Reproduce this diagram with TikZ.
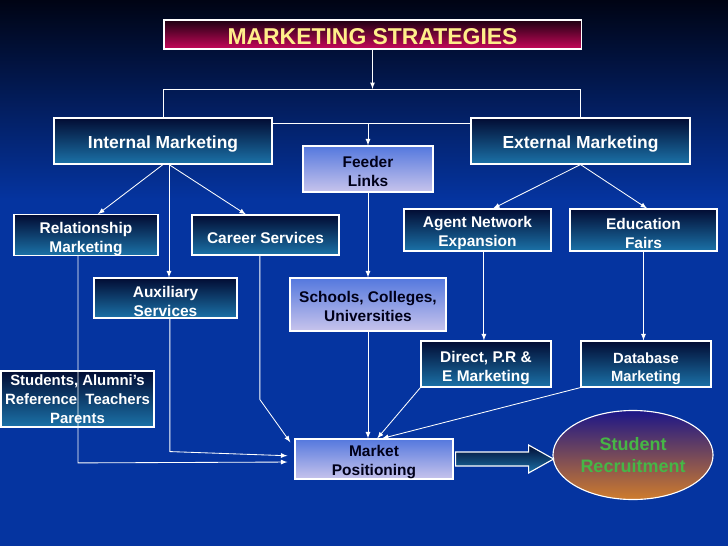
\documentclass[tikz,border=0pt]{standalone}
\usepackage{fontspec}
\setmainfont{Liberation Sans}
\usetikzlibrary{shapes.geometric,calc}

\definecolor{bgtop}{HTML}{000414}
\definecolor{bgblue}{HTML}{0534A0}
\definecolor{boxtop}{HTML}{020C33}
\definecolor{boxbot}{HTML}{1B72A8}
\definecolor{lighttop}{HTML}{5478DE}
\definecolor{lightbot}{HTML}{C8C4EC}
\definecolor{titletop}{HTML}{1E0012}
\definecolor{titlebot}{HTML}{C8085A}
\definecolor{titletext}{HTML}{FFEE8A}
\definecolor{goaltop}{HTML}{1C1688}
\definecolor{goalbot}{HTML}{CF7C2C}
\definecolor{goaltext}{HTML}{46B646}

\begin{document}
\begin{tikzpicture}[x=0.025cm,y=-0.025cm,>=latex,
	box/.style={draw=white, line width=0.8pt, align=center, inner sep=0pt,
		font=\fontsize{11}{13.4}\selectfont\bfseries},
	darkbox/.style={box, top color=boxtop, bottom color=boxbot, text=white},
	lightbox/.style={box, top color=lighttop, bottom color=lightbot, text=black!90!blue},
	link/.style={white, line width=0.6pt},
	]
	%\draw[help lines] (0,0) grid[step=50] (728,546);
	\useasboundingbox (0,0) rectangle (728,546);
	\fill[bgblue] (0,0) rectangle (728,546);
	\shade[top color=bgtop, bottom color=bgblue] (0,0) rectangle (728,200);

	\node[box, top color=titletop, bottom color=titlebot, text=titletext,
		minimum width=10.425cm, minimum height=0.725cm, text height=14pt,
		font=\fontsize{16.3}{18}\selectfont\bfseries] (title) at (372.5,34.5) {MARKETING STRATEGIES};

	\node[darkbox, minimum width=5.45cm, minimum height=1.15cm, text height=12.8pt,
		font=\fontsize{12.4}{14}\selectfont\bfseries] (intm) at (163,141) {Internal Marketing};
	\node[darkbox, minimum width=5.475cm, minimum height=1.15cm, text height=12.8pt,
		font=\fontsize{12.4}{14}\selectfont\bfseries] (extm) at (580.5,141) {External Marketing};
	\node[lightbox, minimum width=3.25cm, minimum height=1.15cm, text height=24.4pt] (feeder) at (368,169) {Feeder\\Links};

	\node[darkbox, minimum width=3.6cm, minimum height=1cm, text height=26.6pt] (relm) at (86,235) {Relationship\\Marketing};
	\node[darkbox, minimum width=3.675cm, minimum height=1cm, text height=11.8pt] (career) at (265.5,235) {Career Services};
	\node[darkbox, minimum width=3.575cm, minimum height=1cm, text height=26.6pt] (aux) at (165.5,298) {Auxiliary\\Services};
	\node[darkbox, minimum width=3.675cm, minimum height=1.05cm, text height=26pt] (agent) at (477.5,230) {Agent Network\\Expansion};
	\node[darkbox, minimum width=3.675cm, minimum height=1.05cm, text height=26pt] (edu) at (643.5,230) {Education\\Fairs};
	\node[lightbox, minimum width=3.9cm, minimum height=1.325cm, text height=24.4pt] (schools) at (368,304.5) {Schools, Colleges,\\Universities};

	\node[darkbox, minimum width=3.25cm, minimum height=1.15cm, text height=26.8pt] (direct) at (486,364) {Direct, P.R \&\\E Marketing};
	\node[darkbox, minimum width=3.25cm, minimum height=1.15cm, text height=27pt,
		font=\fontsize{10.5}{13}\selectfont\bfseries] (dbm) at (646,364) {Database\\Marketing};
	\node[darkbox, minimum width=3.825cm, minimum height=1.4cm,
		font=\fontsize{10.6}{13.6}\selectfont\bfseries] (stud) at (77.5,399) {Students, Alumni's\\Reference\ \ Teachers\\Parents};

	\node[lightbox, minimum width=3.95cm, minimum height=1cm, text height=25.6pt] (mpos) at (374,459) {Market\\Positioning};
	\node[ellipse, draw=white, line width=0.8pt, top color=goaltop, bottom color=goalbot,
		minimum width=4cm, minimum height=2.225cm, inner sep=0pt, align=center, text=goaltext,
		font=\fontsize{12.8}{16}\selectfont\bfseries] (goal) at (633,455) {Student\\Recruitment};

	% block arrow to recruitment
	\coordinate (push) at ([xshift=0.05cm]mpos.east);
	\shade[draw=white, line width=0.8pt, top color=boxtop, bottom color=boxbot]
		(push) ++(0,-7) -- ++(73,0) -- ++(0,-7) -- ++(25,14) -- ++(-25,14) -- ++(0,-7) -- ++(-73,0) -- cycle;

	% top split
	\coordinate (split) at (title.south |- 0,89);
	\coordinate (fork) at (feeder.north |- 0,123);
	\draw[link,->] (title.south) -- (split);
	\draw[link] (intm.north) -- (intm.north |- split) -- (extm.north |- split) -- (extm.north);
	\draw[link] (intm.east |- fork) -- (extm.west |- fork);
	\draw[link,->] (fork) -- (feeder.north);

	% internal side
	\draw[link,->] (intm.south) -- ([xshift=0.3cm]relm.north);
	\draw[link,->] ([xshift=0.15cm]intm.south) -- ([xshift=0.15cm]intm.south |- aux.north);
	\draw[link,->] ([xshift=0.15cm]intm.south) -- ([xshift=-0.49cm]career.north);

	% external side
	\draw[link,->] (extm.south) -- ([xshift=0.39cm]agent.north);
	\draw[link,->] (extm.south) -- ([xshift=0.09cm]edu.north);
	\draw[link,->] ([xshift=0.16cm]agent.south) -- ([xshift=0.16cm]agent.south |- direct.north);
	\draw[link,->] (edu.south) -- (edu.south |- dbm.north);
	\draw[link,->] (feeder.south) -- (schools.north);

	% into market positioning
	\draw[link,->,shorten >=5pt] ([xshift=-0.2cm]relm.south) -- ++(0,207) -- ([yshift=-0.075cm]mpos.west);
	\draw[link,->,shorten >=5pt] ([xshift=0.11cm]aux.south) -- ++(0,133) -- ([yshift=0.075cm]mpos.west);
	\draw[link,->,shorten >=5pt] ([xshift=-0.14cm]career.south) -- ++(0,144) -- ([yshift=0.275cm]mpos.west);
	\draw[link,->] (schools.south) -- (schools.south |- mpos.north);
	\draw[link,->] (direct.south west) -- ([xshift=0.08cm]mpos.north);
	\draw[link,->] (dbm.south west) -- ([xshift=0.2cm]mpos.north);
\end{tikzpicture}
\end{document}
